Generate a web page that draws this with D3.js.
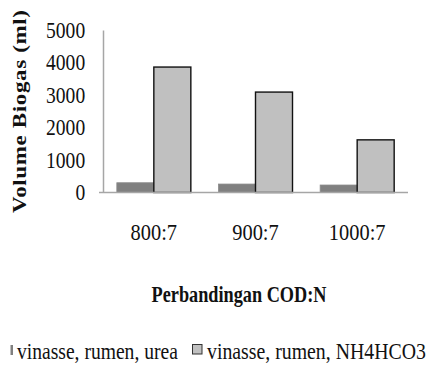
<!DOCTYPE html>
<html>
<head>
<meta charset="utf-8">
<script src="https://cdn.jsdelivr.net/npm/d3@7/dist/d3.min.js"></script>
<style>
  html, body { margin: 0; padding: 0; background: #fff; }
  svg text { font-family: "Liberation Serif", "Tinos", "Times New Roman", "DejaVu Serif", serif !important; }
</style>
</head>
<body>
<svg id="chart" width="430" height="365"></svg>
<script>
// Biogas volume per COD:N ratio
const categories = ["800:7", "900:7", "1000:7"];
const seriesNames = ["vinasse, rumen, urea", "vinasse, rumen, NH4HCO3"];
const ureaValues = [300, 260, 230];
const nh4hco3Values = [3860, 3090, 1620];
const yTicks = [0, 1000, 2000, 3000, 4000, 5000];

const seriesValues = [ureaValues, nh4hco3Values];
const seriesFill = ["#808080", "#c0c0c0"];
const seriesStroke = ["#8a8a8a", "#111"];

// narrow serif lettering
const squeeze = 0.85;

const svg = d3.select("#chart");

const plot = { left: 103, right: 408, top: 30, bottom: 192.5 };

const x = d3.scaleBand()
  .domain(categories)
  .range([plot.left, plot.right])
  .paddingInner(0.272)
  .paddingOuter(0.136);

const xInner = d3.scaleBand()
  .domain(d3.range(seriesValues.length))
  .range([0, x.bandwidth()]);

const y = d3.scaleLinear()
  .domain([0, 5000])
  .range([plot.bottom, plot.top]);

// bars
const groups = svg.append("g").selectAll("g")
  .data(categories)
  .join("g")
  .attr("transform", d => `translate(${x(d)},0)`);

groups.selectAll("rect")
  .data((d, i) => seriesValues.map((vals, s) => ({ s, v: vals[i] })))
  .join("rect")
  .attr("x", d => xInner(d.s))
  .attr("width", xInner.bandwidth())
  .attr("y", d => y(d.v))
  .attr("height", d => y(0) - y(d.v))
  .attr("fill", d => seriesFill[d.s])
  .attr("stroke", d => seriesStroke[d.s])
  .attr("stroke-width", d => d.s === 1 ? 1.4 : 0.8);

// y axis
const yAxis = d3.axisLeft(y).tickValues(yTicks).tickSize(0).tickPadding(21).tickFormat(d3.format("d"));
const gy = svg.append("g").attr("transform", `translate(${plot.left},0)`).call(yAxis);
gy.select(".domain").attr("stroke", "#a6a6a6").attr("stroke-width", 1.5);
gy.selectAll("text")
  .attr("font-size", 23)
  .attr("fill", "#111")
  .attr("transform", `scale(${squeeze},1)`);

// x axis
const xAxis = d3.axisBottom(x).tickSize(0).tickPadding(48);
const gx = svg.append("g").attr("transform", `translate(0,${plot.bottom})`).call(xAxis);
gx.select(".domain").attr("stroke", "#a6a6a6").attr("stroke-width", 1.5)
  .attr("d", `M${plot.left - 4},0H${plot.right}`);
gx.selectAll("text")
  .attr("font-size", 24)
  .attr("fill", "#111")
  .attr("dy", "0")
  .attr("transform", `scale(${squeeze},1)`);

// squeeze a text horizontally so that it spans the given width
function fitWidth(sel, width, tx, ty) {
  const natural = sel.node().getComputedTextLength();
  sel.attr("transform", `translate(${tx},${ty}) scale(${width / natural},1)`);
}

// axis titles
svg.append("text")
  .attr("transform", `translate(26,111.5) scale(${squeeze},1) rotate(-90)`)
  .attr("text-anchor", "middle")
  .attr("font-weight", "bold")
  .attr("font-size", 23)
  .attr("fill", "#111")
  .attr("textLength", 203)
  .text("Volume Biogas (ml)");

const xTitle = svg.append("text")
  .attr("text-anchor", "middle")
  .attr("font-weight", "bold")
  .attr("font-size", 22.5)
  .attr("fill", "#111")
  .text("Perbandingan COD:N");
fitWidth(xTitle, 175, 239, 301.5);

// legend
const legend = svg.append("g");
legend.append("rect")
  .attr("x", 10.5).attr("y", 345).attr("width", 2.5).attr("height", 10)
  .attr("fill", seriesFill[0]);
const lt1 = legend.append("text")
  .attr("font-size", 22.5).attr("fill", "#111")
  .text(seriesNames[0]);
fitWidth(lt1, 161, 17, 358.5);
legend.append("rect")
  .attr("x", 192.5).attr("y", 344.5).attr("width", 9.5).attr("height", 9.5)
  .attr("fill", seriesFill[1]).attr("stroke", "#333").attr("stroke-width", 1);
const lt2 = legend.append("text")
  .attr("font-size", 22.5).attr("fill", "#111")
  .text(seriesNames[1]);
fitWidth(lt2, 219, 207, 358.5);
</script>
</body>
</html>
